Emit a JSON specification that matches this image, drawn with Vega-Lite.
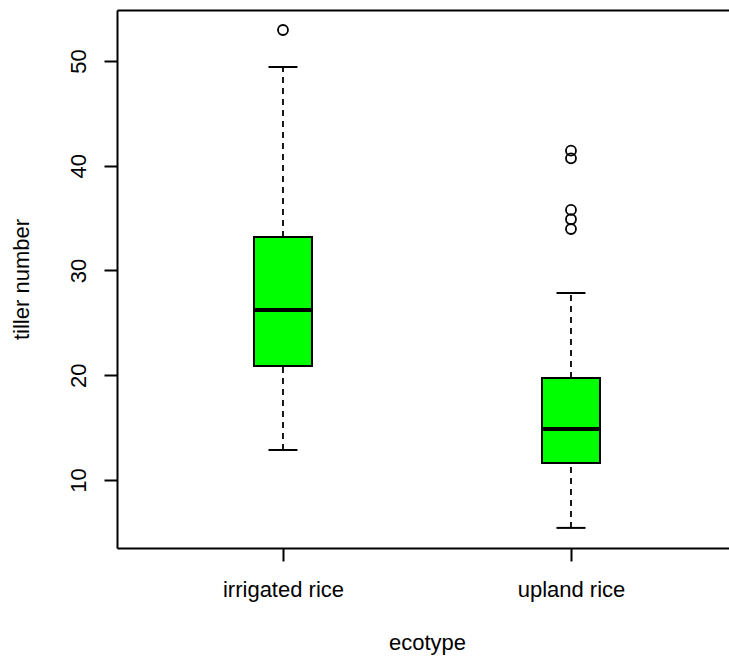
{
  "$schema": "https://vega.github.io/schema/vega-lite/v6.json",
  "width": 612,
  "height": 538,
  "autosize": {"type": "none"},
  "padding": {"left": 117, "top": 10, "right": 0, "bottom": 113},
  "background": "white",
  "config": {
    "view": {"stroke": null},
    "font": "Liberation Sans",
    "axis": {
      "domainColor": "#000",
      "domainWidth": 2,
      "tickColor": "#000",
      "tickWidth": 2,
      "tickSize": 13,
      "labelColor": "#000",
      "labelFontSize": 22,
      "titleColor": "#000",
      "titleFontSize": 22,
      "titleFontWeight": "normal",
      "grid": false,
      "labelFlush": false,
      "labelOverlap": false
    }
  },
  "datasets": {
    "stats": [
      {"ecotype": "irrigated rice", "lower": 12.86, "q1": 20.88, "median": 26.23, "q3": 33.2, "upper": 49.43},
      {"ecotype": "upland rice", "lower": 5.42, "q1": 11.62, "median": 14.87, "q3": 19.74, "upper": 27.85}
    ],
    "outliers": [
      {"ecotype": "irrigated rice", "tiller": 52.96},
      {"ecotype": "upland rice", "tiller": 41.44},
      {"ecotype": "upland rice", "tiller": 40.71},
      {"ecotype": "upland rice", "tiller": 35.78},
      {"ecotype": "upland rice", "tiller": 34.89},
      {"ecotype": "upland rice", "tiller": 33.96}
    ]
  },
  "layer": [
    {
      "data": {"name": "stats"},
      "encoding": {
        "x": {
          "field": "ecotype",
          "type": "nominal",
          "scale": {"type": "point", "domain": ["irrigated rice", "upland rice"], "padding": 0.5625, "align": 0.5123},
          "axis": {
            "orient": "bottom",
            "labelAngle": 0,
            "labelPadding": 35,
            "labelBaseline": "alphabetic",
            "title": "ecotype",
            "titleY": 101,
            "titleX": 310,
            "titleBaseline": "alphabetic",
            "titleAlign": "center"
          }
        }
      },
      "layer": [
        {
          "mark": {"type": "rule", "strokeDash": [6, 5], "strokeWidth": 1.8, "color": "#000"},
          "encoding": {
            "y": {
              "field": "q3",
              "type": "quantitative",
              "scale": {"domain": [3.5, 54.87], "nice": false, "zero": false},
              "axis": {
                "values": [10, 20, 30, 40, 50],
                "labelAngle": -90,
                "labelAlign": "center",
                "labelBaseline": "alphabetic",
                "labelPadding": 19,
                "title": "tiller number",
                "titleAngle": -90,
                "titleX": -89,
                "titleY": 269,
                "titleAlign": "center",
                "titleBaseline": "alphabetic"
              }
            },
            "y2": {"field": "upper"}
          }
        },
        {
          "mark": {"type": "rule", "strokeDash": [6, 5], "strokeWidth": 1.8, "color": "#000"},
          "encoding": {
            "y": {"field": "lower", "type": "quantitative", "scale": {"domain": [3.5, 54.87], "nice": false, "zero": false}, "title": "tiller number"},
            "y2": {"field": "q1"}
          }
        },
        {
          "mark": {"type": "tick", "size": 29, "thickness": 2, "color": "#000", "opacity": 1},
          "encoding": {
            "y": {"field": "upper", "type": "quantitative", "scale": {"domain": [3.5, 54.87], "nice": false, "zero": false}, "title": "tiller number"}
          }
        },
        {
          "mark": {"type": "tick", "size": 29, "thickness": 2, "color": "#000", "opacity": 1},
          "encoding": {
            "y": {"field": "lower", "type": "quantitative", "scale": {"domain": [3.5, 54.87], "nice": false, "zero": false}, "title": "tiller number"}
          }
        },
        {
          "mark": {"type": "bar", "width": 58, "fill": "#00ff00", "stroke": "#000", "strokeWidth": 2, "opacity": 1},
          "encoding": {
            "y": {"field": "q1", "type": "quantitative", "scale": {"domain": [3.5, 54.87], "nice": false, "zero": false}, "title": "tiller number"},
            "y2": {"field": "q3"}
          }
        },
        {
          "mark": {"type": "tick", "size": 58, "thickness": 4, "color": "#000", "opacity": 1},
          "encoding": {
            "y": {"field": "median", "type": "quantitative", "scale": {"domain": [3.5, 54.87], "nice": false, "zero": false}, "title": "tiller number"}
          }
        }
      ]
    },
    {
      "data": {"name": "outliers"},
      "mark": {"type": "point", "shape": "circle", "filled": false, "size": 100, "stroke": "#000", "strokeWidth": 1.8, "opacity": 1},
      "encoding": {
        "x": {
          "field": "ecotype",
          "type": "nominal",
          "scale": {"type": "point", "domain": ["irrigated rice", "upland rice"], "padding": 0.5625, "align": 0.5123},
          "axis": {"orient": "top", "labels": false, "ticks": false, "title": null, "domain": true}
        },
        "y": {"field": "tiller", "type": "quantitative", "scale": {"domain": [3.5, 54.87], "nice": false, "zero": false}, "title": "tiller number"}
      }
    }
  ],
  "resolve": {"axis": {"x": "independent"}}
}
